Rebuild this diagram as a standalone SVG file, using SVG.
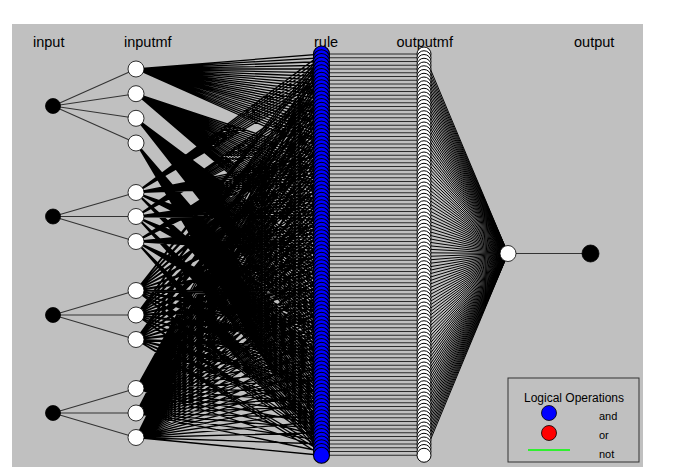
<svg xmlns="http://www.w3.org/2000/svg" xmlns:xlink="http://www.w3.org/1999/xlink" width="691" height="475" viewBox="0 0 691 475">
<style>
text{font-family:"Liberation Sans",Arial,sans-serif;fill:#000}
.ttl{font-size:14.5px}
.lg{font-size:11px}
.fan{fill:none;stroke:#000;stroke-width:1.3}
.ofan{fill:none;stroke:#000;stroke-width:1}
.inl{fill:none;stroke:#333;stroke-width:1.1}
.hz{fill:none;stroke:#1a1a1a;stroke-width:0.9}
.blk{fill:#000;stroke:#000;stroke-width:0.8}
.wht{fill:#fff;stroke:#000;stroke-width:0.8}
</style>
<defs>
<circle id="rc" cx="321.5" cy="0" r="8" fill="#0000ff" stroke="#000" stroke-width="1.1"/>
<circle id="oc" cx="424" cy="0" r="7" fill="#fff" stroke="#000" stroke-width="1"/>
</defs>
<rect x="0" y="0" width="691" height="475" fill="#fff"/>
<rect x="12" y="24" width="631" height="443" fill="#c0c0c0"/>
<g id="titles">
<text class="ttl" x="33" y="47">input</text>
<text class="ttl" x="124" y="47">inputmf</text>
<text class="ttl" x="314" y="47">rule</text>
<text class="ttl" x="396.5" y="47">outputmf</text>
<text class="ttl" x="574" y="47">output</text>
</g>
<g id="connectors">
<path class="inl" d="M53 106 136 69M53 106 136 93.7M53 106 136 118.3M53 106 136 143M53 216.5 136 192.5M53 216.5 136 216.5M53 216.5 136 241.5M53 315 136 290.5M53 315 136 315M53 315 136 339.5M53 413 136 388.5M53 413 136 413M53 413 136 437.5"/>
<path class="fan" d="M136 69 321.5 54 136 192.5M136 69 321.5 57.75 136 192.5M136 69 321.5 61.5 136 192.5M136 69 321.5 65.25 136 192.5M136 69 321.5 69 136 192.5M136 69 321.5 72.75 136 192.5M136 69 321.5 76.5 136 192.5M136 69 321.5 80.25 136 192.5M136 69 321.5 84 136 192.5
M136 69 321.5 87.75 136 216.5M136 69 321.5 91.5 136 216.5M136 69 321.5 95.25 136 216.5M136 69 321.5 99 136 216.5M136 69 321.5 102.75 136 216.5M136 69 321.5 106.5 136 216.5M136 69 321.5 110.25 136 216.5M136 69 321.5 114 136 216.5M136 69 321.5 117.75 136 216.5
M136 69 321.5 121.5 136 241.5M136 69 321.5 125.25 136 241.5M136 69 321.5 129 136 241.5M136 69 321.5 132.75 136 241.5M136 69 321.5 136.5 136 241.5M136 69 321.5 140.25 136 241.5M136 69 321.5 144 136 241.5M136 69 321.5 147.75 136 241.5M136 69 321.5 151.5 136 241.5
M136 93.7 321.5 155.25 136 192.5M136 93.7 321.5 159 136 192.5M136 93.7 321.5 162.75 136 192.5M136 93.7 321.5 166.5 136 192.5M136 93.7 321.5 170.25 136 192.5M136 93.7 321.5 174 136 192.5M136 93.7 321.5 177.75 136 192.5M136 93.7 321.5 181.5 136 192.5M136 93.7 321.5 185.25 136 192.5
M136 93.7 321.5 189 136 216.5M136 93.7 321.5 192.75 136 216.5M136 93.7 321.5 196.5 136 216.5M136 93.7 321.5 200.25 136 216.5M136 93.7 321.5 204 136 216.5M136 93.7 321.5 207.75 136 216.5M136 93.7 321.5 211.5 136 216.5M136 93.7 321.5 215.25 136 216.5M136 93.7 321.5 219 136 216.5
M136 93.7 321.5 222.75 136 241.5M136 93.7 321.5 226.5 136 241.5M136 93.7 321.5 230.25 136 241.5M136 93.7 321.5 234 136 241.5M136 93.7 321.5 237.75 136 241.5M136 93.7 321.5 241.5 136 241.5M136 93.7 321.5 245.25 136 241.5M136 93.7 321.5 249 136 241.5M136 93.7 321.5 252.75 136 241.5
M136 118.3 321.5 256.5 136 192.5M136 118.3 321.5 260.25 136 192.5M136 118.3 321.5 264 136 192.5M136 118.3 321.5 267.75 136 192.5M136 118.3 321.5 271.5 136 192.5M136 118.3 321.5 275.25 136 192.5M136 118.3 321.5 279 136 192.5M136 118.3 321.5 282.75 136 192.5M136 118.3 321.5 286.5 136 192.5
M136 118.3 321.5 290.25 136 216.5M136 118.3 321.5 294 136 216.5M136 118.3 321.5 297.75 136 216.5M136 118.3 321.5 301.5 136 216.5M136 118.3 321.5 305.25 136 216.5M136 118.3 321.5 309 136 216.5M136 118.3 321.5 312.75 136 216.5M136 118.3 321.5 316.5 136 216.5M136 118.3 321.5 320.25 136 216.5
M136 118.3 321.5 324 136 241.5M136 118.3 321.5 327.75 136 241.5M136 118.3 321.5 331.5 136 241.5M136 118.3 321.5 335.25 136 241.5M136 118.3 321.5 339 136 241.5M136 118.3 321.5 342.75 136 241.5M136 118.3 321.5 346.5 136 241.5M136 118.3 321.5 350.25 136 241.5M136 118.3 321.5 354 136 241.5
M136 143 321.5 357.75 136 192.5M136 143 321.5 361.5 136 192.5M136 143 321.5 365.25 136 192.5M136 143 321.5 369 136 192.5M136 143 321.5 372.75 136 192.5M136 143 321.5 376.5 136 192.5M136 143 321.5 380.25 136 192.5M136 143 321.5 384 136 192.5M136 143 321.5 387.75 136 192.5
M136 143 321.5 391.5 136 216.5M136 143 321.5 395.25 136 216.5M136 143 321.5 399 136 216.5M136 143 321.5 402.75 136 216.5M136 143 321.5 406.5 136 216.5M136 143 321.5 410.25 136 216.5M136 143 321.5 414 136 216.5M136 143 321.5 417.75 136 216.5M136 143 321.5 421.5 136 216.5
M136 143 321.5 425.25 136 241.5M136 143 321.5 429 136 241.5M136 143 321.5 432.75 136 241.5M136 143 321.5 436.5 136 241.5M136 143 321.5 440.25 136 241.5M136 143 321.5 444 136 241.5M136 143 321.5 447.75 136 241.5M136 143 321.5 451.5 136 241.5M136 143 321.5 455.25 136 241.5"/>
<path class="fan" d="M136 290.5 321.5 54 136 388.5M136 290.5 321.5 57.75 136 413M136 290.5 321.5 61.5 136 437.5M136 315 321.5 65.25 136 388.5M136 315 321.5 69 136 413M136 315 321.5 72.75 136 437.5M136 339.5 321.5 76.5 136 388.5M136 339.5 321.5 80.25 136 413M136 339.5 321.5 84 136 437.5
M136 290.5 321.5 87.75 136 388.5M136 290.5 321.5 91.5 136 413M136 290.5 321.5 95.25 136 437.5M136 315 321.5 99 136 388.5M136 315 321.5 102.75 136 413M136 315 321.5 106.5 136 437.5M136 339.5 321.5 110.25 136 388.5M136 339.5 321.5 114 136 413M136 339.5 321.5 117.75 136 437.5
M136 290.5 321.5 121.5 136 388.5M136 290.5 321.5 125.25 136 413M136 290.5 321.5 129 136 437.5M136 315 321.5 132.75 136 388.5M136 315 321.5 136.5 136 413M136 315 321.5 140.25 136 437.5M136 339.5 321.5 144 136 388.5M136 339.5 321.5 147.75 136 413M136 339.5 321.5 151.5 136 437.5
M136 290.5 321.5 155.25 136 388.5M136 290.5 321.5 159 136 413M136 290.5 321.5 162.75 136 437.5M136 315 321.5 166.5 136 388.5M136 315 321.5 170.25 136 413M136 315 321.5 174 136 437.5M136 339.5 321.5 177.75 136 388.5M136 339.5 321.5 181.5 136 413M136 339.5 321.5 185.25 136 437.5
M136 290.5 321.5 189 136 388.5M136 290.5 321.5 192.75 136 413M136 290.5 321.5 196.5 136 437.5M136 315 321.5 200.25 136 388.5M136 315 321.5 204 136 413M136 315 321.5 207.75 136 437.5M136 339.5 321.5 211.5 136 388.5M136 339.5 321.5 215.25 136 413M136 339.5 321.5 219 136 437.5
M136 290.5 321.5 222.75 136 388.5M136 290.5 321.5 226.5 136 413M136 290.5 321.5 230.25 136 437.5M136 315 321.5 234 136 388.5M136 315 321.5 237.75 136 413M136 315 321.5 241.5 136 437.5M136 339.5 321.5 245.25 136 388.5M136 339.5 321.5 249 136 413M136 339.5 321.5 252.75 136 437.5
M136 290.5 321.5 256.5 136 388.5M136 290.5 321.5 260.25 136 413M136 290.5 321.5 264 136 437.5M136 315 321.5 267.75 136 388.5M136 315 321.5 271.5 136 413M136 315 321.5 275.25 136 437.5M136 339.5 321.5 279 136 388.5M136 339.5 321.5 282.75 136 413M136 339.5 321.5 286.5 136 437.5
M136 290.5 321.5 290.25 136 388.5M136 290.5 321.5 294 136 413M136 290.5 321.5 297.75 136 437.5M136 315 321.5 301.5 136 388.5M136 315 321.5 305.25 136 413M136 315 321.5 309 136 437.5M136 339.5 321.5 312.75 136 388.5M136 339.5 321.5 316.5 136 413M136 339.5 321.5 320.25 136 437.5
M136 290.5 321.5 324 136 388.5M136 290.5 321.5 327.75 136 413M136 290.5 321.5 331.5 136 437.5M136 315 321.5 335.25 136 388.5M136 315 321.5 339 136 413M136 315 321.5 342.75 136 437.5M136 339.5 321.5 346.5 136 388.5M136 339.5 321.5 350.25 136 413M136 339.5 321.5 354 136 437.5
M136 290.5 321.5 357.75 136 388.5M136 290.5 321.5 361.5 136 413M136 290.5 321.5 365.25 136 437.5M136 315 321.5 369 136 388.5M136 315 321.5 372.75 136 413M136 315 321.5 376.5 136 437.5M136 339.5 321.5 380.25 136 388.5M136 339.5 321.5 384 136 413M136 339.5 321.5 387.75 136 437.5
M136 290.5 321.5 391.5 136 388.5M136 290.5 321.5 395.25 136 413M136 290.5 321.5 399 136 437.5M136 315 321.5 402.75 136 388.5M136 315 321.5 406.5 136 413M136 315 321.5 410.25 136 437.5M136 339.5 321.5 414 136 388.5M136 339.5 321.5 417.75 136 413M136 339.5 321.5 421.5 136 437.5
M136 290.5 321.5 425.25 136 388.5M136 290.5 321.5 429 136 413M136 290.5 321.5 432.75 136 437.5M136 315 321.5 436.5 136 388.5M136 315 321.5 440.25 136 413M136 315 321.5 444 136 437.5M136 339.5 321.5 447.75 136 388.5M136 339.5 321.5 451.5 136 413M136 339.5 321.5 455.25 136 437.5"/>
<path class="hz" d="M321.5 54H424M321.5 57.75H424M321.5 61.5H424M321.5 65.25H424M321.5 69H424M321.5 72.75H424M321.5 76.5H424M321.5 80.25H424M321.5 84H424M321.5 87.75H424M321.5 91.5H424M321.5 95.25H424M321.5 99H424M321.5 102.75H424M321.5 106.5H424M321.5 110.25H424M321.5 114H424M321.5 117.75H424M321.5 121.5H424M321.5 125.25H424M321.5 129H424M321.5 132.75H424M321.5 136.5H424M321.5 140.25H424M321.5 144H424M321.5 147.75H424M321.5 151.5H424M321.5 155.25H424M321.5 159H424M321.5 162.75H424M321.5 166.5H424M321.5 170.25H424M321.5 174H424M321.5 177.75H424M321.5 181.5H424M321.5 185.25H424M321.5 189H424M321.5 192.75H424M321.5 196.5H424M321.5 200.25H424M321.5 204H424M321.5 207.75H424M321.5 211.5H424M321.5 215.25H424M321.5 219H424M321.5 222.75H424M321.5 226.5H424M321.5 230.25H424M321.5 234H424M321.5 237.75H424M321.5 241.5H424M321.5 245.25H424M321.5 249H424M321.5 252.75H424M321.5 256.5H424M321.5 260.25H424M321.5 264H424M321.5 267.75H424M321.5 271.5H424M321.5 275.25H424M321.5 279H424M321.5 282.75H424M321.5 286.5H424M321.5 290.25H424M321.5 294H424M321.5 297.75H424M321.5 301.5H424M321.5 305.25H424M321.5 309H424M321.5 312.75H424M321.5 316.5H424M321.5 320.25H424M321.5 324H424M321.5 327.75H424M321.5 331.5H424M321.5 335.25H424M321.5 339H424M321.5 342.75H424M321.5 346.5H424M321.5 350.25H424M321.5 354H424M321.5 357.75H424M321.5 361.5H424M321.5 365.25H424M321.5 369H424M321.5 372.75H424M321.5 376.5H424M321.5 380.25H424M321.5 384H424M321.5 387.75H424M321.5 391.5H424M321.5 395.25H424M321.5 399H424M321.5 402.75H424M321.5 406.5H424M321.5 410.25H424M321.5 414H424M321.5 417.75H424M321.5 421.5H424M321.5 425.25H424M321.5 429H424M321.5 432.75H424M321.5 436.5H424M321.5 440.25H424M321.5 444H424M321.5 447.75H424M321.5 451.5H424M321.5 455.25H424"/>
<path class="ofan" d="M424 54 508 253.5M424 57.75 508 253.5M424 61.5 508 253.5M424 65.25 508 253.5M424 69 508 253.5M424 72.75 508 253.5M424 76.5 508 253.5M424 80.25 508 253.5M424 84 508 253.5M424 87.75 508 253.5M424 91.5 508 253.5M424 95.25 508 253.5M424 99 508 253.5M424 102.75 508 253.5M424 106.5 508 253.5M424 110.25 508 253.5M424 114 508 253.5M424 117.75 508 253.5M424 121.5 508 253.5M424 125.25 508 253.5M424 129 508 253.5M424 132.75 508 253.5M424 136.5 508 253.5M424 140.25 508 253.5M424 144 508 253.5M424 147.75 508 253.5M424 151.5 508 253.5M424 155.25 508 253.5M424 159 508 253.5M424 162.75 508 253.5M424 166.5 508 253.5M424 170.25 508 253.5M424 174 508 253.5M424 177.75 508 253.5M424 181.5 508 253.5M424 185.25 508 253.5M424 189 508 253.5M424 192.75 508 253.5M424 196.5 508 253.5M424 200.25 508 253.5M424 204 508 253.5M424 207.75 508 253.5M424 211.5 508 253.5M424 215.25 508 253.5M424 219 508 253.5M424 222.75 508 253.5M424 226.5 508 253.5M424 230.25 508 253.5M424 234 508 253.5M424 237.75 508 253.5M424 241.5 508 253.5M424 245.25 508 253.5M424 249 508 253.5M424 252.75 508 253.5M424 256.5 508 253.5M424 260.25 508 253.5M424 264 508 253.5M424 267.75 508 253.5M424 271.5 508 253.5M424 275.25 508 253.5M424 279 508 253.5M424 282.75 508 253.5M424 286.5 508 253.5M424 290.25 508 253.5M424 294 508 253.5M424 297.75 508 253.5M424 301.5 508 253.5M424 305.25 508 253.5M424 309 508 253.5M424 312.75 508 253.5M424 316.5 508 253.5M424 320.25 508 253.5M424 324 508 253.5M424 327.75 508 253.5M424 331.5 508 253.5M424 335.25 508 253.5M424 339 508 253.5M424 342.75 508 253.5M424 346.5 508 253.5M424 350.25 508 253.5M424 354 508 253.5M424 357.75 508 253.5M424 361.5 508 253.5M424 365.25 508 253.5M424 369 508 253.5M424 372.75 508 253.5M424 376.5 508 253.5M424 380.25 508 253.5M424 384 508 253.5M424 387.75 508 253.5M424 391.5 508 253.5M424 395.25 508 253.5M424 399 508 253.5M424 402.75 508 253.5M424 406.5 508 253.5M424 410.25 508 253.5M424 414 508 253.5M424 417.75 508 253.5M424 421.5 508 253.5M424 425.25 508 253.5M424 429 508 253.5M424 432.75 508 253.5M424 436.5 508 253.5M424 440.25 508 253.5M424 444 508 253.5M424 447.75 508 253.5M424 451.5 508 253.5M424 455.25 508 253.5"/>
<path class="inl" d="M508 253.5H590.5"/>
</g>
<g id="input1"><circle class="blk" cx="53" cy="106" r="7.5"/></g>
<g id="input2"><circle class="blk" cx="53" cy="216.5" r="7.5"/></g>
<g id="input3"><circle class="blk" cx="53" cy="315" r="7.5"/></g>
<g id="input4"><circle class="blk" cx="53" cy="413" r="7.5"/></g>
<g id="in1mf1"><circle class="wht" cx="136" cy="69" r="8"/></g>
<g id="in1mf2"><circle class="wht" cx="136" cy="93.7" r="8"/></g>
<g id="in1mf3"><circle class="wht" cx="136" cy="118.3" r="8"/></g>
<g id="in1mf4"><circle class="wht" cx="136" cy="143" r="8"/></g>
<g id="in2mf1"><circle class="wht" cx="136" cy="192.5" r="8"/></g>
<g id="in2mf2"><circle class="wht" cx="136" cy="216.5" r="8"/></g>
<g id="in2mf3"><circle class="wht" cx="136" cy="241.5" r="8"/></g>
<g id="in3mf1"><circle class="wht" cx="136" cy="290.5" r="8"/></g>
<g id="in3mf2"><circle class="wht" cx="136" cy="315" r="8"/></g>
<g id="in3mf3"><circle class="wht" cx="136" cy="339.5" r="8"/></g>
<g id="in4mf1"><circle class="wht" cx="136" cy="388.5" r="8"/></g>
<g id="in4mf2"><circle class="wht" cx="136" cy="413" r="8"/></g>
<g id="in4mf3"><circle class="wht" cx="136" cy="437.5" r="8"/></g>
<g id="rules">
<g id="r1"><use href="#rc" y="54"/></g><g id="r2"><use href="#rc" y="57.75"/></g><g id="r3"><use href="#rc" y="61.5"/></g><g id="r4"><use href="#rc" y="65.25"/></g><g id="r5"><use href="#rc" y="69"/></g><g id="r6"><use href="#rc" y="72.75"/></g><g id="r7"><use href="#rc" y="76.5"/></g><g id="r8"><use href="#rc" y="80.25"/></g><g id="r9"><use href="#rc" y="84"/></g>
<g id="r10"><use href="#rc" y="87.75"/></g><g id="r11"><use href="#rc" y="91.5"/></g><g id="r12"><use href="#rc" y="95.25"/></g><g id="r13"><use href="#rc" y="99"/></g><g id="r14"><use href="#rc" y="102.75"/></g><g id="r15"><use href="#rc" y="106.5"/></g><g id="r16"><use href="#rc" y="110.25"/></g><g id="r17"><use href="#rc" y="114"/></g><g id="r18"><use href="#rc" y="117.75"/></g>
<g id="r19"><use href="#rc" y="121.5"/></g><g id="r20"><use href="#rc" y="125.25"/></g><g id="r21"><use href="#rc" y="129"/></g><g id="r22"><use href="#rc" y="132.75"/></g><g id="r23"><use href="#rc" y="136.5"/></g><g id="r24"><use href="#rc" y="140.25"/></g><g id="r25"><use href="#rc" y="144"/></g><g id="r26"><use href="#rc" y="147.75"/></g><g id="r27"><use href="#rc" y="151.5"/></g>
<g id="r28"><use href="#rc" y="155.25"/></g><g id="r29"><use href="#rc" y="159"/></g><g id="r30"><use href="#rc" y="162.75"/></g><g id="r31"><use href="#rc" y="166.5"/></g><g id="r32"><use href="#rc" y="170.25"/></g><g id="r33"><use href="#rc" y="174"/></g><g id="r34"><use href="#rc" y="177.75"/></g><g id="r35"><use href="#rc" y="181.5"/></g><g id="r36"><use href="#rc" y="185.25"/></g>
<g id="r37"><use href="#rc" y="189"/></g><g id="r38"><use href="#rc" y="192.75"/></g><g id="r39"><use href="#rc" y="196.5"/></g><g id="r40"><use href="#rc" y="200.25"/></g><g id="r41"><use href="#rc" y="204"/></g><g id="r42"><use href="#rc" y="207.75"/></g><g id="r43"><use href="#rc" y="211.5"/></g><g id="r44"><use href="#rc" y="215.25"/></g><g id="r45"><use href="#rc" y="219"/></g>
<g id="r46"><use href="#rc" y="222.75"/></g><g id="r47"><use href="#rc" y="226.5"/></g><g id="r48"><use href="#rc" y="230.25"/></g><g id="r49"><use href="#rc" y="234"/></g><g id="r50"><use href="#rc" y="237.75"/></g><g id="r51"><use href="#rc" y="241.5"/></g><g id="r52"><use href="#rc" y="245.25"/></g><g id="r53"><use href="#rc" y="249"/></g><g id="r54"><use href="#rc" y="252.75"/></g>
<g id="r55"><use href="#rc" y="256.5"/></g><g id="r56"><use href="#rc" y="260.25"/></g><g id="r57"><use href="#rc" y="264"/></g><g id="r58"><use href="#rc" y="267.75"/></g><g id="r59"><use href="#rc" y="271.5"/></g><g id="r60"><use href="#rc" y="275.25"/></g><g id="r61"><use href="#rc" y="279"/></g><g id="r62"><use href="#rc" y="282.75"/></g><g id="r63"><use href="#rc" y="286.5"/></g>
<g id="r64"><use href="#rc" y="290.25"/></g><g id="r65"><use href="#rc" y="294"/></g><g id="r66"><use href="#rc" y="297.75"/></g><g id="r67"><use href="#rc" y="301.5"/></g><g id="r68"><use href="#rc" y="305.25"/></g><g id="r69"><use href="#rc" y="309"/></g><g id="r70"><use href="#rc" y="312.75"/></g><g id="r71"><use href="#rc" y="316.5"/></g><g id="r72"><use href="#rc" y="320.25"/></g>
<g id="r73"><use href="#rc" y="324"/></g><g id="r74"><use href="#rc" y="327.75"/></g><g id="r75"><use href="#rc" y="331.5"/></g><g id="r76"><use href="#rc" y="335.25"/></g><g id="r77"><use href="#rc" y="339"/></g><g id="r78"><use href="#rc" y="342.75"/></g><g id="r79"><use href="#rc" y="346.5"/></g><g id="r80"><use href="#rc" y="350.25"/></g><g id="r81"><use href="#rc" y="354"/></g>
<g id="r82"><use href="#rc" y="357.75"/></g><g id="r83"><use href="#rc" y="361.5"/></g><g id="r84"><use href="#rc" y="365.25"/></g><g id="r85"><use href="#rc" y="369"/></g><g id="r86"><use href="#rc" y="372.75"/></g><g id="r87"><use href="#rc" y="376.5"/></g><g id="r88"><use href="#rc" y="380.25"/></g><g id="r89"><use href="#rc" y="384"/></g><g id="r90"><use href="#rc" y="387.75"/></g>
<g id="r91"><use href="#rc" y="391.5"/></g><g id="r92"><use href="#rc" y="395.25"/></g><g id="r93"><use href="#rc" y="399"/></g><g id="r94"><use href="#rc" y="402.75"/></g><g id="r95"><use href="#rc" y="406.5"/></g><g id="r96"><use href="#rc" y="410.25"/></g><g id="r97"><use href="#rc" y="414"/></g><g id="r98"><use href="#rc" y="417.75"/></g><g id="r99"><use href="#rc" y="421.5"/></g>
<g id="r100"><use href="#rc" y="425.25"/></g><g id="r101"><use href="#rc" y="429"/></g><g id="r102"><use href="#rc" y="432.75"/></g><g id="r103"><use href="#rc" y="436.5"/></g><g id="r104"><use href="#rc" y="440.25"/></g><g id="r105"><use href="#rc" y="444"/></g><g id="r106"><use href="#rc" y="447.75"/></g><g id="r107"><use href="#rc" y="451.5"/></g><g id="r108"><use href="#rc" y="455.25"/></g>
</g>
<g id="outputmfs">
<g id="om1"><use href="#oc" y="54"/></g><g id="om2"><use href="#oc" y="57.75"/></g><g id="om3"><use href="#oc" y="61.5"/></g><g id="om4"><use href="#oc" y="65.25"/></g><g id="om5"><use href="#oc" y="69"/></g><g id="om6"><use href="#oc" y="72.75"/></g><g id="om7"><use href="#oc" y="76.5"/></g><g id="om8"><use href="#oc" y="80.25"/></g><g id="om9"><use href="#oc" y="84"/></g>
<g id="om10"><use href="#oc" y="87.75"/></g><g id="om11"><use href="#oc" y="91.5"/></g><g id="om12"><use href="#oc" y="95.25"/></g><g id="om13"><use href="#oc" y="99"/></g><g id="om14"><use href="#oc" y="102.75"/></g><g id="om15"><use href="#oc" y="106.5"/></g><g id="om16"><use href="#oc" y="110.25"/></g><g id="om17"><use href="#oc" y="114"/></g><g id="om18"><use href="#oc" y="117.75"/></g>
<g id="om19"><use href="#oc" y="121.5"/></g><g id="om20"><use href="#oc" y="125.25"/></g><g id="om21"><use href="#oc" y="129"/></g><g id="om22"><use href="#oc" y="132.75"/></g><g id="om23"><use href="#oc" y="136.5"/></g><g id="om24"><use href="#oc" y="140.25"/></g><g id="om25"><use href="#oc" y="144"/></g><g id="om26"><use href="#oc" y="147.75"/></g><g id="om27"><use href="#oc" y="151.5"/></g>
<g id="om28"><use href="#oc" y="155.25"/></g><g id="om29"><use href="#oc" y="159"/></g><g id="om30"><use href="#oc" y="162.75"/></g><g id="om31"><use href="#oc" y="166.5"/></g><g id="om32"><use href="#oc" y="170.25"/></g><g id="om33"><use href="#oc" y="174"/></g><g id="om34"><use href="#oc" y="177.75"/></g><g id="om35"><use href="#oc" y="181.5"/></g><g id="om36"><use href="#oc" y="185.25"/></g>
<g id="om37"><use href="#oc" y="189"/></g><g id="om38"><use href="#oc" y="192.75"/></g><g id="om39"><use href="#oc" y="196.5"/></g><g id="om40"><use href="#oc" y="200.25"/></g><g id="om41"><use href="#oc" y="204"/></g><g id="om42"><use href="#oc" y="207.75"/></g><g id="om43"><use href="#oc" y="211.5"/></g><g id="om44"><use href="#oc" y="215.25"/></g><g id="om45"><use href="#oc" y="219"/></g>
<g id="om46"><use href="#oc" y="222.75"/></g><g id="om47"><use href="#oc" y="226.5"/></g><g id="om48"><use href="#oc" y="230.25"/></g><g id="om49"><use href="#oc" y="234"/></g><g id="om50"><use href="#oc" y="237.75"/></g><g id="om51"><use href="#oc" y="241.5"/></g><g id="om52"><use href="#oc" y="245.25"/></g><g id="om53"><use href="#oc" y="249"/></g><g id="om54"><use href="#oc" y="252.75"/></g>
<g id="om55"><use href="#oc" y="256.5"/></g><g id="om56"><use href="#oc" y="260.25"/></g><g id="om57"><use href="#oc" y="264"/></g><g id="om58"><use href="#oc" y="267.75"/></g><g id="om59"><use href="#oc" y="271.5"/></g><g id="om60"><use href="#oc" y="275.25"/></g><g id="om61"><use href="#oc" y="279"/></g><g id="om62"><use href="#oc" y="282.75"/></g><g id="om63"><use href="#oc" y="286.5"/></g>
<g id="om64"><use href="#oc" y="290.25"/></g><g id="om65"><use href="#oc" y="294"/></g><g id="om66"><use href="#oc" y="297.75"/></g><g id="om67"><use href="#oc" y="301.5"/></g><g id="om68"><use href="#oc" y="305.25"/></g><g id="om69"><use href="#oc" y="309"/></g><g id="om70"><use href="#oc" y="312.75"/></g><g id="om71"><use href="#oc" y="316.5"/></g><g id="om72"><use href="#oc" y="320.25"/></g>
<g id="om73"><use href="#oc" y="324"/></g><g id="om74"><use href="#oc" y="327.75"/></g><g id="om75"><use href="#oc" y="331.5"/></g><g id="om76"><use href="#oc" y="335.25"/></g><g id="om77"><use href="#oc" y="339"/></g><g id="om78"><use href="#oc" y="342.75"/></g><g id="om79"><use href="#oc" y="346.5"/></g><g id="om80"><use href="#oc" y="350.25"/></g><g id="om81"><use href="#oc" y="354"/></g>
<g id="om82"><use href="#oc" y="357.75"/></g><g id="om83"><use href="#oc" y="361.5"/></g><g id="om84"><use href="#oc" y="365.25"/></g><g id="om85"><use href="#oc" y="369"/></g><g id="om86"><use href="#oc" y="372.75"/></g><g id="om87"><use href="#oc" y="376.5"/></g><g id="om88"><use href="#oc" y="380.25"/></g><g id="om89"><use href="#oc" y="384"/></g><g id="om90"><use href="#oc" y="387.75"/></g>
<g id="om91"><use href="#oc" y="391.5"/></g><g id="om92"><use href="#oc" y="395.25"/></g><g id="om93"><use href="#oc" y="399"/></g><g id="om94"><use href="#oc" y="402.75"/></g><g id="om95"><use href="#oc" y="406.5"/></g><g id="om96"><use href="#oc" y="410.25"/></g><g id="om97"><use href="#oc" y="414"/></g><g id="om98"><use href="#oc" y="417.75"/></g><g id="om99"><use href="#oc" y="421.5"/></g>
<g id="om100"><use href="#oc" y="425.25"/></g><g id="om101"><use href="#oc" y="429"/></g><g id="om102"><use href="#oc" y="432.75"/></g><g id="om103"><use href="#oc" y="436.5"/></g><g id="om104"><use href="#oc" y="440.25"/></g><g id="om105"><use href="#oc" y="444"/></g><g id="om106"><use href="#oc" y="447.75"/></g><g id="om107"><use href="#oc" y="451.5"/></g><g id="om108"><use href="#oc" y="455.25"/></g>
</g>
<g id="aggregate"><circle class="wht" cx="508" cy="253.5" r="8"/></g>
<g id="output"><circle class="blk" cx="590.5" cy="253.5" r="8.5"/></g>
<g id="legend">
<rect x="508" y="378" width="131" height="84" fill="none" stroke="#333" stroke-width="1"/>
<text x="574" y="402" font-size="12" text-anchor="middle">Logical Operations</text>
<circle cx="549" cy="413" r="7.5" fill="#0000ff" stroke="#000" stroke-width="0.8"/>
<circle cx="549" cy="433" r="7.5" fill="#ff0000" stroke="#000" stroke-width="0.8"/>
<path d="M528 450H570" stroke="#00ff00" stroke-width="1.5"/>
<text class="lg" x="599" y="420">and</text>
<text class="lg" x="599" y="439">or</text>
<text class="lg" x="599" y="458">not</text>
</g>
</svg>
